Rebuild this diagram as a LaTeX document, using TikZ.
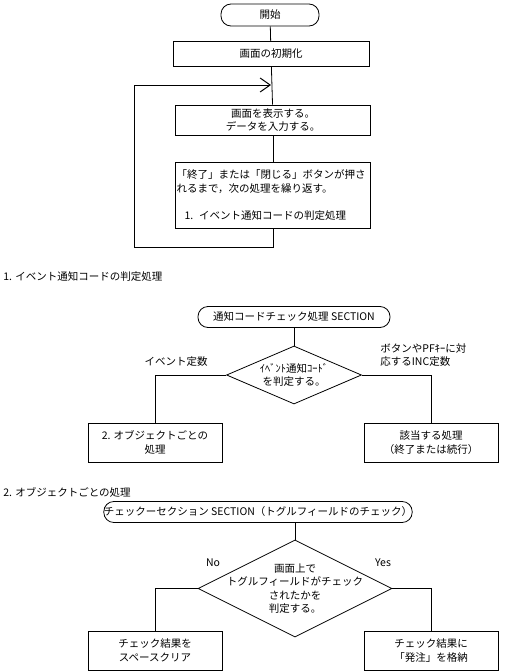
\documentclass[tikz,border=0pt]{standalone}
\usepackage{fontspec}
\setmainfont{Noto Sans CJK JP}
\usepackage{tikz}
\usetikzlibrary{shapes,arrows.meta,positioning,calc}

\begin{document}
\begin{tikzpicture}[x=1pt,y=-1pt,line width=0.8pt,
    font=\fontsize{10.5}{13.5}\selectfont,
    term/.style={draw,rounded corners=10pt,minimum height=22pt,inner sep=0pt},
    proc/.style={draw,align=center,inner sep=0pt},
    decide/.style={draw,diamond,inner sep=0pt},
    txt/.style={align=center,inner sep=0pt},
    flow/.style={-{Straight Barb[length=10pt,width=14pt,line width=1pt]}}]
    \useasboundingbox (0,0) rectangle (504,672);
    % main loop
    \node[term,minimum width=98pt] (start) at (270,15) {開始};
    \node[proc,minimum width=196pt,minimum height=25pt] (init) at (271,54) {画面の初期化};
    \node[proc,minimum width=195pt,minimum height=30pt] (disp) at (273,120) {画面を表示する。\\データを入力する。};
    \node[proc,minimum width=195pt,minimum height=66pt] (loop) at (273,195) {};
    \node[txt,align=left,anchor=west] (looptxt) at ([xshift=1pt]loop.west)
        {「終了」または「閉じる」ボタンが押さ\\れるまで，次の処理を繰り返す。\\[13.5pt]\hspace{8pt}1.\hspace{6pt}イベント通知コードの判定処理};
    \coordinate (ret) at (271,85);
    \coordinate (back) at (134,85);
    \draw (start) -- (init);
    \draw (init) -- (disp);
    \draw (disp) -- (loop);
    \draw (loop.south) -- ++(0,19) -| (back);
    \draw[flow] (back) -- (ret);

    % 1. event code
    \node[txt,anchor=west] (head1) at (3,277) {1. イベント通知コードの判定処理};
    \node[term,minimum width=192pt,minimum height=21pt] (sec1) at (294,317) {通知コードチェック処理 SECTION};
    \node[decide,minimum width=135pt,minimum height=58pt] (dec1) at (294,375) {};
    \node[txt] (dec1txt) at (dec1.center) {ｲﾍﾞﾝﾄ通知ｺｰﾄﾞ\\を判定する。};
    \node[proc,minimum width=134pt,minimum height=39pt] (obj) at (155,442.5) {2. オブジェクトごとの\\処理};
    \node[proc,minimum width=134pt,minimum height=39pt] (hit) at (431,442.5) {該当する処理\\（終了または続行）};
    \node[txt] (evlbl) at (176,362) {イベント定数};
    \node[txt,align=left,anchor=west] (inclbl) at (380,355) {ボタンやPFｷｰに対\\応するINC定数};
    \draw (sec1) -- (dec1);
    \draw (dec1.west) -| (obj.north);
    \draw (dec1.east) -| (hit.north);

    % 2. per object
    \node[txt,anchor=west] (head2) at (3,492) {2. オブジェクトごとの処理};
    \node[term,minimum width=259pt,minimum height=21pt] (sec2) at (258,512) {チェックーセクション SECTION（トグルフィールドのチェック）};
    \node[decide,minimum width=194pt,minimum height=97pt] (dec2) at (295,588.5) {};
    \node[txt] (dec2txt) at (dec2.center) {画面上で\\トグルフィールドがチェック\\されたかを\\判定する。};
    \node[proc,minimum width=134pt,minimum height=39pt] (clr) at (155,650.5) {チェック結果を\\スペースクリア};
    \node[proc,minimum width=134pt,minimum height=39pt] (set) at (431,650.5) {チェック結果に\\「発注」を格納};
    \node[txt] (nolbl) at (213,563) {No};
    \node[txt] (yeslbl) at (383,563) {Yes};
    \draw (dec2.north) -- (dec2.north |- sec2.south);
    \draw (dec2.west) -| (clr.north);
    \draw (dec2.east) -| (set.north);
\end{tikzpicture}
\end{document}
